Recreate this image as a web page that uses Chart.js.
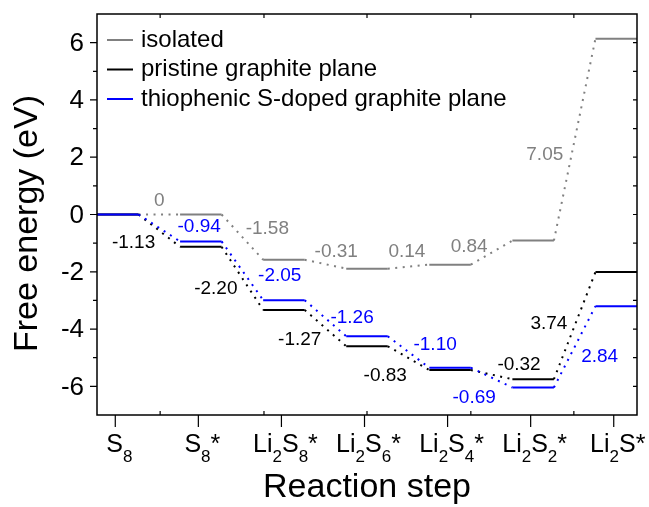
<!DOCTYPE html>
<html>
<head>
<meta charset="utf-8">
<script src="https://cdn.jsdelivr.net/npm/chart.js@4.4.1/dist/chart.umd.min.js"></script>
<style>
  html, body { margin: 0; padding: 0; background: #fff; }
</style>
</head>
<body>
<canvas id="energy-chart" width="649" height="507"></canvas>
<script>
// reaction steps, "_d" = subscript digit
const steps = ['S_8', 'S_8*', 'Li_2S_8*', 'Li_2S_6*', 'Li_2S_4*', 'Li_2S_2*', 'Li_2S*'];

// free energy level of each step (eV)
const isolated = [0, 0, -1.58, -1.89, -1.75, -0.91, 6.14];
const pristine = [0, -1.13, -3.33, -4.60, -5.43, -5.75, -2.01];
const doped = [0, -0.94, -2.99, -4.25, -5.35, -6.04, -3.20];

// energy change written next to each transition
const isolatedDelta = ['0', '-1.58', '-0.31', '0.14', '0.84', '7.05'];
const pristineDelta = ['-1.13', '-2.20', '-1.27', '-0.83', '-0.32', '3.74'];
const dopedDelta = ['-0.94', '-2.05', '-1.26', '-1.10', '-0.69', '2.84'];

const yTicks = [-6, -4, -2, 0, 2, 4, 6];

// where the change labels sit, in axis units [step, eV]
const isolatedLabelPos = [[0.53, 0.47], [1.83, -0.51], [2.66, -1.29], [3.51, -1.31], [4.26, -1.13], [5.17, 2.08]];
const pristineLabelPos = [[0.22, -1.00], [1.21, -2.60], [2.22, -4.38], [3.25, -5.64], [4.86, -5.25], [5.22, -3.82]];
const dopedLabelPos = [[1.01, -0.44], [1.98, -2.15], [2.85, -3.61], [3.85, -4.56], [4.32, -6.41], [5.83, -4.98]];

const STEP_START = -0.22;
const STEP_END = 0.28;
const FONT = "'Liberation Sans', Arial, sans-serif";
const GRAY = '#808080';
const BLUE = '#0000ff';

const minorX = [0.54, 1.79, 3.03, 4.28, 5.52];

function stepPoints(levels) {
  const pts = [];
  levels.forEach((v, i) => {
    pts.push({ x: i + STEP_START, y: v });
    pts.push({ x: i + STEP_END, y: v });
  });
  return pts;
}

// every second piece of the line is the dotted link between two levels
const dottedLink = (ctx) => ctx.p0DataIndex % 2 === 1 ? [2, 5.5] : [];

const series = [
  { label: 'isolated', levels: isolated, color: GRAY, deltas: isolatedDelta, pos: isolatedLabelPos, order: 3 },
  { label: 'pristine graphite plane', levels: pristine, color: '#000000', deltas: pristineDelta, pos: pristineLabelPos, order: 2 },
  { label: 'thiophenic S-doped graphite plane', levels: doped, color: BLUE, deltas: dopedDelta, pos: dopedLabelPos, order: 1 },
];

function drawLabel(ctx, text, cx, baseline) {
  // split "Li_2S_8*" into normal and subscript runs
  const parts = [];
  for (let i = 0; i < text.length; i++) {
    if (text[i] === '_') { parts.push({ t: text[i + 1], sub: true }); i++; }
    else parts.push({ t: text[i], sub: false });
  }
  const mainFont = '25px ' + FONT;
  const subFont = '17px ' + FONT;
  let width = 0;
  parts.forEach(p => { ctx.font = p.sub ? subFont : mainFont; p.w = ctx.measureText(p.t).width; width += p.w; });
  let x = cx - width / 2 + 4;
  ctx.textAlign = 'left';
  ctx.textBaseline = 'alphabetic';
  parts.forEach(p => {
    ctx.font = p.sub ? subFont : mainFont;
    ctx.fillText(p.t, x, p.sub ? baseline + 10 : baseline);
    x += p.w;
  });
}

const decorations = {
  id: 'decorations',
  afterDraw(chart) {
    const { ctx, chartArea: a, scales: { x, y } } = chart;
    ctx.save();
    ctx.strokeStyle = '#000';
    ctx.fillStyle = '#000';

    // frame
    ctx.lineWidth = 1.5;
    ctx.strokeRect(a.left, a.top, a.right - a.left, a.bottom - a.top);

    // ticks
    ctx.lineWidth = 1.2;
    ctx.beginPath();
    for (let v = -6; v <= 6; v++) {
      const py = y.getPixelForValue(v);
      const len = v % 2 === 0 ? 7 : 4;
      ctx.moveTo(a.left - len, py); ctx.lineTo(a.left, py);
      ctx.moveTo(a.right - 4, py); ctx.lineTo(a.right, py);
    }
    steps.forEach((s, i) => {
      const px = x.getPixelForValue(i);
      ctx.moveTo(px, a.bottom); ctx.lineTo(px, a.bottom + 12);
    });
    minorX.forEach(v => {
      const px = x.getPixelForValue(v);
      ctx.moveTo(px, a.bottom); ctx.lineTo(px, a.bottom - 4);
      ctx.moveTo(px, a.top); ctx.lineTo(px, a.top + 4);
    });
    ctx.stroke();

    // y tick labels
    ctx.font = '26px ' + FONT;
    ctx.textAlign = 'right';
    ctx.textBaseline = 'middle';
    yTicks.forEach(v => ctx.fillText(String(v), a.left - 13, y.getPixelForValue(v) + 1));

    // category labels with subscripts
    steps.forEach((s, i) => drawLabel(ctx, s, x.getPixelForValue(i), a.bottom + 37));

    // axis titles
    ctx.font = '34px ' + FONT;
    ctx.textAlign = 'center';
    ctx.textBaseline = 'alphabetic';
    ctx.fillText('Reaction step', (a.left + a.right) / 2, a.bottom + 82);
    ctx.save();
    ctx.translate(36.5, (a.top + a.bottom) / 2 + 9);
    ctx.rotate(-Math.PI / 2);
    ctx.fillText('Free energy (eV)', 0, 0);
    ctx.restore();

    // legend
    ctx.font = '24px ' + FONT;
    ctx.textAlign = 'left';
    ctx.textBaseline = 'middle';
    series.forEach((s, k) => {
      const ly = a.top + 26 + 29.5 * k;
      ctx.strokeStyle = s.color;
      ctx.lineWidth = 2;
      ctx.beginPath();
      ctx.moveTo(a.left + 10, ly); ctx.lineTo(a.left + 36, ly);
      ctx.stroke();
      ctx.fillStyle = '#000';
      ctx.fillText(s.label, a.left + 44, ly);
    });

    // energy change labels
    ctx.font = '19px ' + FONT;
    ctx.textAlign = 'center';
    series.forEach(s => {
      ctx.fillStyle = s.color;
      s.deltas.forEach((d, i) => {
        ctx.fillText(d, x.getPixelForValue(s.pos[i][0]), y.getPixelForValue(s.pos[i][1]));
      });
    });
    ctx.restore();
  }
};

new Chart(document.getElementById('energy-chart'), {
  type: 'line',
  data: {
    datasets: series.map(s => ({
      label: s.label,
      data: stepPoints(s.levels),
      borderColor: s.color,
      borderWidth: 2,
      pointRadius: 0,
      tension: 0,
      order: s.order,
      segment: { borderDash: dottedLink },
    })),
  },
  options: {
    responsive: false,
    animation: false,
    layout: { padding: { top: 14, right: 12, left: 0, bottom: 0 } },
    plugins: { legend: { display: false }, tooltip: { enabled: false } },
    scales: {
      x: {
        type: 'linear',
        min: STEP_START,
        max: steps.length - 1 + STEP_END,
        grid: { display: false },
        border: { display: false },
        ticks: { display: false },
        afterFit: (s) => { s.height = 92; },
      },
      y: {
        min: -7,
        max: 7,
        grid: { display: false },
        border: { display: false },
        ticks: { display: false },
        afterFit: (s) => { s.width = 97; },
      },
    },
  },
  plugins: [decorations],
});
</script>
</body>
</html>
